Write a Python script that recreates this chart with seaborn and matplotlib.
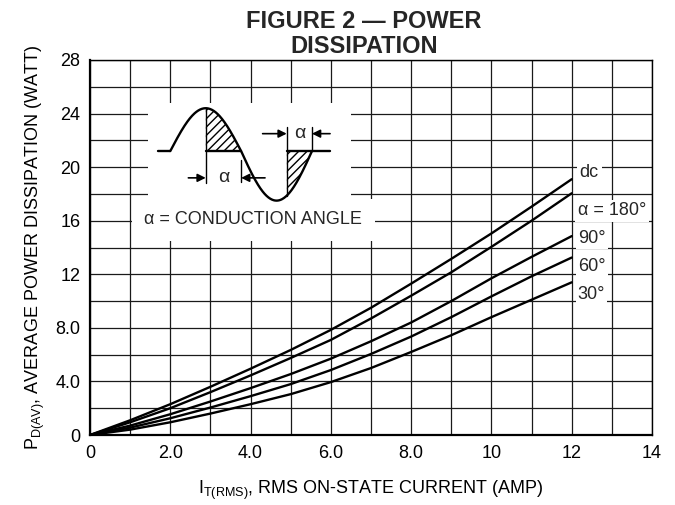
import numpy as np
import pandas as pd
import matplotlib
matplotlib.use("Agg")
import matplotlib.pyplot as plt
import seaborn as sns
from matplotlib.patches import Rectangle

# ---- data ----
current = [0, 1, 2, 3, 4, 5, 6, 7, 8, 9, 10, 11, 12]
p_dc  = [0, 1.1, 2.3, 3.6, 4.95, 6.35, 7.85, 9.5, 11.3, 13.15, 15.05, 17.05, 19.1]
p_180 = [0, 0.95, 2.0, 3.2, 4.45, 5.75, 7.1, 8.7, 10.4, 12.15, 14.05, 16.0, 18.05]
p_90  = [0, 0.7, 1.55, 2.5, 3.5, 4.55, 5.7, 7.0, 8.4, 10.0, 11.7, 13.3, 14.85]
p_60  = [0, 0.55, 1.25, 2.05, 2.9, 3.8, 4.85, 6.05, 7.35, 8.8, 10.35, 11.85, 13.25]
p_30  = [0, 0.4, 0.95, 1.6, 2.3, 3.05, 3.95, 5.0, 6.2, 7.45, 8.8, 10.1, 11.4]
series_names = ["dc", "α = 180°", "90°", "60°", "30°"]
x_ticks = [0, 2, 4, 6, 8, 10, 12, 14]
x_tick_labels = ["0", "2.0", "4.0", "6.0", "8.0", "10", "12", "14"]
y_ticks = [0, 4, 8, 12, 16, 20, 24, 28]
y_tick_labels = ["0", "4.0", "8.0", "12", "16", "20", "24", "28"]

sns.set_theme(style="white")
NARROW = ['Liberation Sans Narrow', 'Liberation Sans', 'DejaVu Sans']
BOLD = ['Liberation Sans', 'DejaVu Sans']
plt.rcParams['font.family'] = NARROW

frames = []
for name, vals in zip(series_names, [p_dc, p_180, p_90, p_60, p_30]):
    frames.append(pd.DataFrame({"I": current, "P": vals, "series": name}))
df = pd.concat(frames, ignore_index=True)

fig = plt.figure(figsize=(6.75, 5.05), dpi=100)
ax = fig.add_axes([90/675, 1-435/505, (652-90)/675, (435-60)/505])

sns.lineplot(data=df, x="I", y="P", hue="series", palette=["black"]*5,
             legend=False, ax=ax, linewidth=1.7, zorder=5)

ax.set_xlim(0, 14)
ax.set_ylim(0, 28)
ax.set_xticks(x_ticks)
ax.set_xticklabels(x_tick_labels)
ax.set_yticks(y_ticks)
ax.set_yticklabels(y_tick_labels)
ax.set_xticks(np.arange(1, 14, 2), minor=True)
ax.set_yticks(np.arange(2, 28, 4), minor=True)
ax.grid(True, which="both", color="#1a1a1a", linewidth=0.9)
ax.set_axisbelow(True)
ax.tick_params(which="both", length=0, labelsize=13, colors="black")
ax.tick_params(axis="x", pad=7)
ax.tick_params(axis="y", pad=7)
for s in ax.spines.values():
    s.set_color("black")
    s.set_linewidth(1.0)
ax.spines["left"].set_linewidth(1.6)
ax.spines["bottom"].set_linewidth(1.6)

ax.set_xlabel(r"$\mathregular{I_{T(RMS)}}$, RMS ON-STATE CURRENT (AMP)",
              fontsize=13, labelpad=12, color="black")
ax.set_ylabel(r"$\mathregular{P_{D(AV)}}$, AVERAGE POWER DISSIPATION (WATT)",
              fontsize=13, labelpad=6, color="black")

fig.text(364/675, 1-34/505, "FIGURE 2 — POWER\nDISSIPATION", ha="center", va="center",
         fontsize=17, fontweight="bold", family=BOLD, linespacing=1.15)

# curve labels
ax.text(12.2, 19.6, "dc", fontsize=13, va="center", ha="left", zorder=6,
        bbox=dict(facecolor="white", edgecolor="none", pad=2))
ax.text(12.15, 16.73, "α = 180°", fontsize=13, va="center", ha="left", zorder=6,
        bbox=dict(facecolor="white", edgecolor="none", pad=2))
for lab, yv in [("90°", 14.7), ("60°", 12.6), ("30°", 10.5)]:
    ax.text(12.15, yv, lab, fontsize=13, va="center", ha="left", zorder=6,
            bbox=dict(facecolor="white", edgecolor="none", pad=1.5))

# ---- inset diagram (conduction angle sketch) ----
ax.add_patch(Rectangle((1.45, 15.2), 5.05, 9.6, facecolor="white", edgecolor="none", zorder=3))
ax.text(4.07, 16.06, "α = CONDUCTION ANGLE", fontsize=13, ha="center", va="center", zorder=6,
        bbox=dict(facecolor="white", edgecolor="none", pad=9))

x0, T, yb, aup, adn = 2.0, 3.53, 21.2, 3.2, 3.7
t = np.linspace(x0, x0 + T, 300)
s = np.sin(2*np.pi*(t - x0)/T)
yw = yb + np.where(s > 0, aup, adn)*s
lw = 1.7
ax.plot(t, yw, color="black", lw=lw, zorder=6)
ax.plot([1.70, x0], [yb, yb], color="black", lw=lw, zorder=6)
xp = x0 + T/4
xz = x0 + T/2
ax.plot([xp, xz], [yb, yb], color="black", lw=lw, zorder=6)
ax.plot([xp, xp], [yb + aup, 18.8], color="black", lw=1.0, zorder=6)
ax.plot([xz, xz], [20.5, 18.9], color="black", lw=1.0, zorder=6)
m1 = (t >= xp) & (t <= xz)
ax.fill_between(t[m1], yw[m1], yb, facecolor="none", edgecolor="black", hatch="////",
                linewidth=0, zorder=5)
xs = 4.9
ys = yb + adn*np.sin(2*np.pi*(xs - x0)/T)
ax.plot([xs, 5.98], [yb, yb], color="black", lw=lw, zorder=6)
ax.plot([xs, xs], [ys, 23.0], color="black", lw=1.0, zorder=6)
ax.plot([x0 + T, x0 + T], [yb, 23.0], color="black", lw=1.0, zorder=6)
m2 = (t >= xs)
ax.fill_between(t[m2], yw[m2], yb, facecolor="none", edgecolor="black", hatch="////",
                linewidth=0, zorder=5)

arrow = dict(arrowstyle="-|>", color="black", lw=1.2, mutation_scale=12, shrinkA=0, shrinkB=0)
ax.annotate("", xy=(xp, 19.2), xytext=(2.45, 19.2), arrowprops=arrow, zorder=7)
ax.annotate("", xy=(xz, 19.2), xytext=(4.36, 19.2), arrowprops=arrow, zorder=7)
ax.text((xp + xz)/2, 19.2, "α", fontsize=14, ha="center", va="center", zorder=7)
ax.annotate("", xy=(xs, 22.5), xytext=(4.30, 22.5), arrowprops=arrow, zorder=7)
ax.annotate("", xy=(x0 + T, 22.5), xytext=(5.98, 22.5), arrowprops=arrow, zorder=7)
ax.text((xs + x0 + T)/2, 22.5, "α", fontsize=14, ha="center", va="center", zorder=7)

fig.savefig("out.png", dpi=100, facecolor="white")
